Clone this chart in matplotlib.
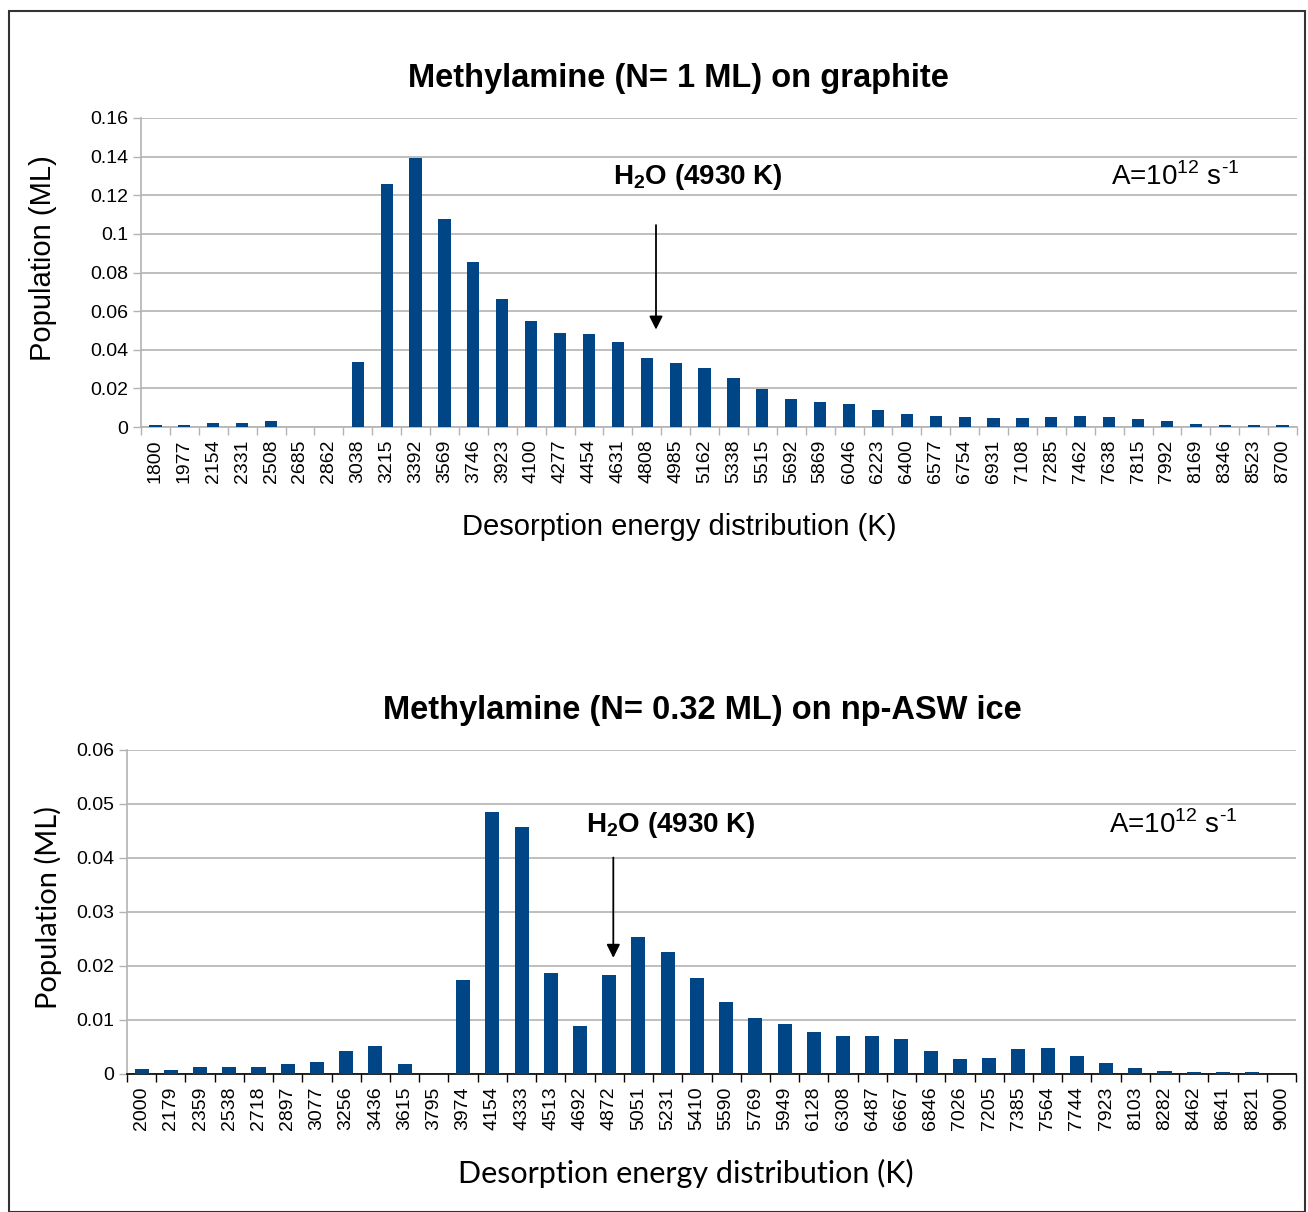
import numpy as np
import matplotlib.pyplot as plt
from matplotlib.patches import Rectangle

# top panel: methylamine on graphite
cats_top = ['1800', '1977', '2154', '2331', '2508', '2685', '2862', '3038', '3215', '3392',
            '3569', '3746', '3923', '4100', '4277', '4454', '4631', '4808', '4985', '5162',
            '5338', '5515', '5692', '5869', '6046', '6223', '6400', '6577', '6754', '6931',
            '7108', '7285', '7462', '7638', '7815', '7992', '8169', '8346', '8523', '8700']
pop_top = [0.0012, 0.0010, 0.0020, 0.0020, 0.0029, 0.0, 0.0, 0.0338, 0.1256, 0.1394,
           0.1075, 0.0854, 0.0665, 0.0548, 0.0489, 0.0480, 0.0439, 0.0357, 0.0331, 0.0305,
           0.0253, 0.0195, 0.0143, 0.0127, 0.0118, 0.0086, 0.0068, 0.0059, 0.0051, 0.0049,
           0.0049, 0.0051, 0.0059, 0.0051, 0.0044, 0.0033, 0.0016, 0.0010, 0.0010, 0.0010]

# bottom panel: methylamine on np-ASW ice
cats_bot = ['2000', '2179', '2359', '2538', '2718', '2897', '3077', '3256', '3436', '3615',
            '3795', '3974', '4154', '4333', '4513', '4692', '4872', '5051', '5231', '5410',
            '5590', '5769', '5949', '6128', '6308', '6487', '6667', '6846', '7026', '7205',
            '7385', '7564', '7744', '7923', '8103', '8282', '8462', '8641', '8821', '9000']
pop_bot = [0.0010, 0.0007, 0.0013, 0.0013, 0.0013, 0.0019, 0.0022, 0.0043, 0.0052, 0.0019,
           0.0, 0.0175, 0.0485, 0.0457, 0.0187, 0.0088, 0.0184, 0.0253, 0.0226, 0.0178,
           0.0134, 0.0104, 0.0092, 0.0077, 0.0070, 0.0070, 0.0065, 0.0043, 0.0027, 0.0030,
           0.0046, 0.0049, 0.0033, 0.0021, 0.0012, 0.0006, 0.0003, 0.0003, 0.0003, 0.0]

W, H = 1308, 1212
bar_color = '#004586'
grid_color = '#b3b3b3'
plt.rcParams['font.family'] = ['Liberation Sans', 'DejaVu Sans']
plt.rcParams['mathtext.fontset'] = 'custom'
plt.rcParams['mathtext.rm'] = 'Liberation Sans'
plt.rcParams['mathtext.bf'] = 'Liberation Sans:bold'

fig = plt.figure(figsize=(W / 100, H / 100), dpi=100)
fig.patches.append(Rectangle((9 / W, 0), (W - 12) / W, 1 - 11 / H, transform=fig.transFigure,
                             fill=False, edgecolor='#333333', linewidth=1.5))


def px_axes(l, t, r, b):
    return fig.add_axes([l / W, 1 - b / H, (r - l) / W, (b - t) / H])


def panel(ax, cats, vals, ymax, ystep, fmt, width, axis_col, lab_font, ylab_size, xlab_size,
          ylab_xy, xlab_xy, arrow_x, arrow_y, txt_xy):
    n = len(cats)
    x = np.arange(n) + 0.5
    ax.bar(x, vals, width=width, color=bar_color, zorder=3)
    ax.set_xlim(0, n)
    ax.set_ylim(0, ymax)
    yt = np.arange(0, ymax + ystep / 2, ystep)
    ax.set_yticks(yt)
    ax.set_yticklabels([fmt(v) for v in yt], fontsize=14)
    ax.set_xticks(np.arange(n + 1), minor=False)
    ax.set_xticklabels([])
    ax.set_xticks(x, minor=True)
    ax.set_xticklabels(cats, minor=True, rotation=90, fontsize=14)
    ax.tick_params(axis='x', which='minor', length=0, pad=9)
    ax.tick_params(axis='x', which='major', length=6, color=axis_col, width=1)
    ax.tick_params(axis='y', length=6, color=grid_color, width=1, pad=3)
    ax.grid(axis='y', color=grid_color, linewidth=1.2, zorder=0)
    for s in ['top', 'right']:
        ax.spines[s].set_visible(False)
    ax.spines['left'].set_color(grid_color)
    ax.spines['bottom'].set_color(axis_col)
    ax.spines['left'].set_linewidth(1.2)
    ax.spines['bottom'].set_linewidth(1.2)
    ax.set_ylabel('Population (ML)', fontsize=ylab_size, family=lab_font)
    ax.set_xlabel('Desorption energy distribution (K)', fontsize=xlab_size, family=lab_font)
    ax.yaxis.set_label_coords(*ylab_xy)
    ax.xaxis.set_label_coords(*xlab_xy)
    ax.annotate('', xy=(arrow_x, arrow_y[1]), xytext=(arrow_x, arrow_y[0]),
                arrowprops=dict(arrowstyle='-|>', color='black', lw=1.3, mutation_scale=20))
    ax.text(txt_xy[0], txt_xy[1], r'H$_\mathbf{2}$O (4930 K)', fontsize=20, fontweight='bold',
            ha='center', va='center', transform=ax.transAxes)
    ax.text(0.895, txt_xy[1], r'A=10$^{\text{12}}$ s$^{\text{-1}}$', fontsize=20, ha='center',
            va='center', transform=ax.transAxes)


ax1 = px_axes(141, 118, 1297, 427)
panel(ax1, cats_top, pop_top, 0.16, 0.02, lambda v: '0' if v == 0 else ('%.2f' % v).rstrip('0'),
      0.42, grid_color, 'Liberation Sans', 21, 21, (-0.0727, 0.547), (0.466, -0.278),
      17.82, (0.106, 0.049), (0.482, 0.809))
ax1.set_title('Methylamine (N= 1 ML) on graphite', fontsize=23.5, fontweight='bold', pad=22, x=0.4645)

ax2 = px_axes(127, 750, 1296, 1074)
panel(ax2, cats_bot, pop_bot, 0.06, 0.01, lambda v: '0' if v == 0 else '%.2f' % v,
      0.48, 'black', 'Lato', 21, 22, (-0.0556, 0.515), (0.478, -0.262),
      16.64, (0.0406, 0.021), (0.465, 0.77))
ax2.set_title('Methylamine (N= 0.32 ML) on np-ASW ice', fontsize=23.5, fontweight='bold', pad=22, x=0.492)

fig.savefig('out.png', dpi=100)
